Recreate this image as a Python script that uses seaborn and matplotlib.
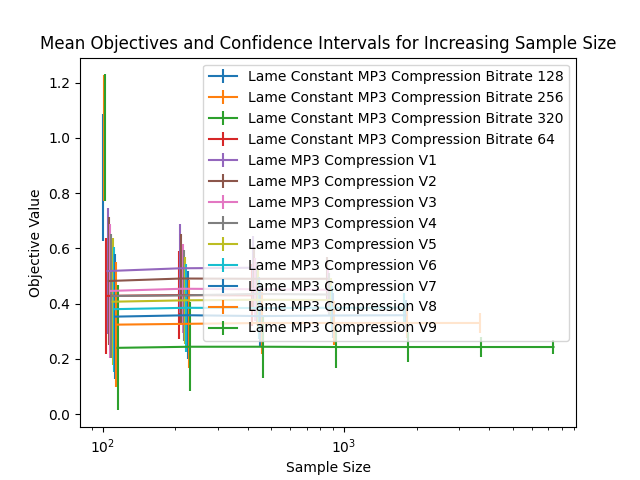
import numpy as np
import matplotlib
matplotlib.use("Agg")
import matplotlib.pyplot as plt
import seaborn as sns


# Sample sizes used at each round (each series only runs as long as it survives)
sample_sizes = [100, 200, 400, 800, 1600, 3200, 6400]

# Series names, in the order they were plotted
names = [
    "Lame Constant MP3 Compression Bitrate 128",
    "Lame Constant MP3 Compression Bitrate 256",
    "Lame Constant MP3 Compression Bitrate 320",
    "Lame Constant MP3 Compression Bitrate 64",
    "Lame MP3 Compression V1",
    "Lame MP3 Compression V2",
    "Lame MP3 Compression V3",
    "Lame MP3 Compression V4",
    "Lame MP3 Compression V5",
    "Lame MP3 Compression V6",
    "Lame MP3 Compression V7",
    "Lame MP3 Compression V8",
    "Lame MP3 Compression V9",
]

# Mean objective per round
means = [
    [0.857],
    [1.000],
    [1.001],
    [0.428, 0.431, 0.430],
    [0.518, 0.528, 0.530],
    [0.482, 0.491, 0.490, 0.490],
    [0.446, 0.454, 0.452, 0.450],
    [0.428, 0.430, 0.435, 0.433],
    [0.407, 0.412, 0.414, 0.413],
    [0.380, 0.385, 0.384, 0.385, 0.385],
    [0.353, 0.358, 0.355, 0.357, 0.358],
    [0.324, 0.327, 0.330, 0.330, 0.330, 0.330],
    [0.240, 0.244, 0.244, 0.243, 0.243, 0.243, 0.243],
]

# Half width of the confidence interval per round
ci_half = [
    [0.230],
    [0.229],
    [0.229],
    [0.211, 0.160, 0.112],
    [0.228, 0.162, 0.115],
    [0.230, 0.161, 0.114, 0.080],
    [0.243, 0.162, 0.115, 0.080],
    [0.225, 0.164, 0.114, 0.079],
    [0.230, 0.157, 0.113, 0.080],
    [0.226, 0.160, 0.113, 0.079, 0.055],
    [0.226, 0.160, 0.113, 0.080, 0.056],
    [0.227, 0.160, 0.112, 0.079, 0.055, 0.036],
    [0.2265, 0.161, 0.112, 0.076, 0.053, 0.036, 0.024],
]

# small multiplicative dodge so the bars of different series do not overlap
dodge = 1.012

palette = sns.color_palette("tab10")

fig, ax = plt.subplots(figsize=(6.4, 4.8), dpi=100)
for i, (name, m, e) in enumerate(zip(names, means, ci_half)):
    x = np.array(sample_sizes[: len(m)]) * dodge**i
    ax.errorbar(x, m, yerr=e, label=name, color=palette[i % 10])

ax.set_xscale("log")
ax.set_title("Mean Objectives and Confidence Intervals for Increasing Sample Size")
ax.set_xlabel("Sample Size")
ax.set_ylabel("Objective Value")
ax.legend(loc="upper right")

plt.savefig("out.png", dpi=100)
